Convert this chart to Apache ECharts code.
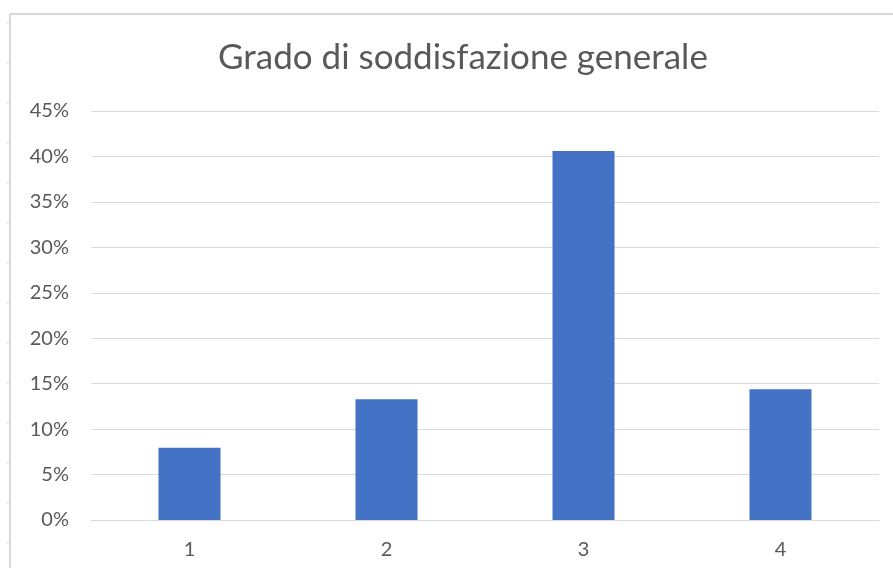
<!DOCTYPE html>
<html>
<head>
<meta charset="utf-8">
<script src="https://cdn.jsdelivr.net/npm/echarts@6/dist/echarts.min.js"></script>
<style>
html,body{margin:0;padding:0;background:#fff;}
#chart{width:893px;height:568px;}
</style>
</head>
<body>
<div id="chart"></div>
<script>
var titleText = 'Grado di soddisfazione generale';
var categories = ['1', '2', '3', '4'];
var values = [0.0796, 0.1328, 0.406, 0.1438];
var yTicks = [0, 0.05, 0.10, 0.15, 0.20, 0.25, 0.30, 0.35, 0.40, 0.45];

var chart = echarts.init(document.getElementById('chart'), null, {renderer: 'canvas'});

var deco = [
  {type: 'line', shape: {x1: 10, y1: 14, x2: 893, y2: 14}, style: {stroke: '#d9d9d9', lineWidth: 2}, silent: true},
  {type: 'line', shape: {x1: 10, y1: 14, x2: 10, y2: 568}, style: {stroke: '#d9d9d9', lineWidth: 2}, silent: true}
];
for (var yy = 23; yy < 568; yy += 40) {
  deco.push({type: 'line', shape: {x1: 6, y1: yy, x2: 9, y2: yy}, style: {stroke: '#d9d9d9', lineWidth: 1}, silent: true});
}

chart.setOption({
  backgroundColor: '#ffffff',
  animation: false,
  title: {
    text: titleText,
    left: 213,
    top: 35,
    textStyle: {fontFamily: 'Lato, "Open Sans", sans-serif', fontSize: 35, fontWeight: 'normal', color: '#595959'}
  },
  grid: {left: 91, right: 14, top: 111, bottom: 48, containLabel: false},
  xAxis: {
    type: 'category',
    data: categories,
    axisLine: {show: true, lineStyle: {color: '#d9d9d9', width: 1}},
    axisTick: {show: false},
    axisLabel: {fontFamily: 'Lato, "Open Sans", sans-serif', fontSize: 20, color: '#595959', margin: 20}
  },
  yAxis: {
    type: 'value',
    min: 0,
    max: 0.45,
    interval: 0.05,
    axisLine: {show: false},
    axisTick: {show: false},
    splitLine: {show: true, lineStyle: {color: '#d9d9d9', width: 1}},
    axisLabel: {
      fontFamily: 'Lato, "Open Sans", sans-serif', fontSize: 20, color: '#595959', margin: 22,
      formatter: function (v) { return Math.round(v * 100) + '%'; }
    }
  },
  series: [{
    type: 'bar',
    data: values,
    barWidth: 62,
    itemStyle: {color: '#4472c4'}
  }],
  graphic: deco
});
</script>
</body>
</html>
